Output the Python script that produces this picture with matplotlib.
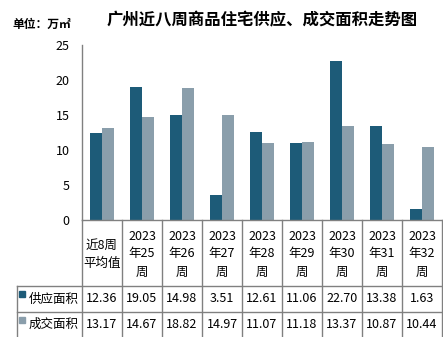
import matplotlib
matplotlib.use('Agg')
import matplotlib.pyplot as plt
from matplotlib.lines import Line2D
from matplotlib.patches import Rectangle
import numpy as np

plt.rcParams['font.family'] = ['Noto Sans CJK SC', 'DejaVu Sans']

categories = ['近8周\n平均值', '2023\n年25\n周', '2023\n年26\n周', '2023\n年27\n周',
              '2023\n年28\n周', '2023\n年29\n周', '2023\n年30\n周', '2023\n年31\n周',
              '2023\n年32\n周']
supply = [12.36, 19.05, 14.98, 3.51, 12.61, 11.06, 22.70, 13.38, 1.63]
deal = [13.17, 14.67, 18.82, 14.97, 11.07, 11.18, 13.37, 10.87, 10.44]
series_names = ['供应面积', '成交面积']
colors = ['#1d5b78', '#8a9eab']

W, H = 443, 337
fig = plt.figure(figsize=(W / 100, H / 100), dpi=100)


def fx(px):
    return px / W


def fy(py):
    return 1 - py / H


left, right, top, bottom = 82, 442, 45, 220
ax = fig.add_axes([fx(left), fy(bottom), fx(right - left), (bottom - top) / H])
x = np.arange(len(categories))
bw = 0.3
ax.bar(x - bw / 2, supply, bw, color=colors[0])
ax.bar(x + bw / 2, deal, bw, color=colors[1])
ax.set_xlim(-0.5, len(categories) - 0.5)
ax.set_ylim(0, 25)
ax.set_yticks(range(0, 26, 5))
ax.tick_params(axis='y', length=0, labelsize=9, pad=9)
ax.set_xticks([])
for s in ['top', 'right']:
    ax.spines[s].set_visible(False)
for s in ['left', 'bottom']:
    ax.spines[s].set_color('#808080')
    ax.spines[s].set_linewidth(1)

fig.text(fx(12), fy(24), '单位：万㎡', fontsize=8.5, fontweight='bold', va='center')
fig.text(fx(262), fy(20), '广州近八周商品住宅供应、成交面积走势图', fontsize=11.8,
         fontweight='bold', ha='center', va='center')

# data table below the axis
line_kw = dict(color='#808080', lw=1, transform=fig.transFigure)
col_w = (right - left) / len(categories)
row1, row2, row3 = 220, 286, 312
for k in range(len(categories) + 1):
    xp = left + k * col_w
    fig.add_artist(Line2D([fx(xp), fx(xp)], [fy(row1), fy(H)], **line_kw))
fig.add_artist(Line2D([fx(17), fx(17)], [fy(row2), fy(H)], **line_kw))
for yp in [row2, row3]:
    fig.add_artist(Line2D([fx(17), fx(right)], [fy(yp), fy(yp)], **line_kw))

for i, cat in enumerate(categories):
    cx = left + (i + 0.5) * col_w
    fig.text(fx(cx), fy((row1 + row2) / 2 + 1), cat, ha='center', va='center',
             fontsize=9, linespacing=1.5)
    fig.text(fx(cx), fy((row2 + row3) / 2), f'{supply[i]:.2f}', ha='center',
             va='center', fontsize=9)
    fig.text(fx(cx), fy((row3 + H) / 2), f'{deal[i]:.2f}', ha='center',
             va='center', fontsize=9)

for j, (name, c) in enumerate(zip(series_names, colors)):
    yc = (row2 + row3) / 2 if j == 0 else (row3 + H) / 2
    fig.add_artist(Rectangle((fx(19), fy(yc - 2)), 6 / W, 6 / H,
                             color=c, transform=fig.transFigure))
    fig.text(fx(29), fy(yc), name, ha='left', va='center', fontsize=9)

fig.savefig('out.png', dpi=100, facecolor='white')
